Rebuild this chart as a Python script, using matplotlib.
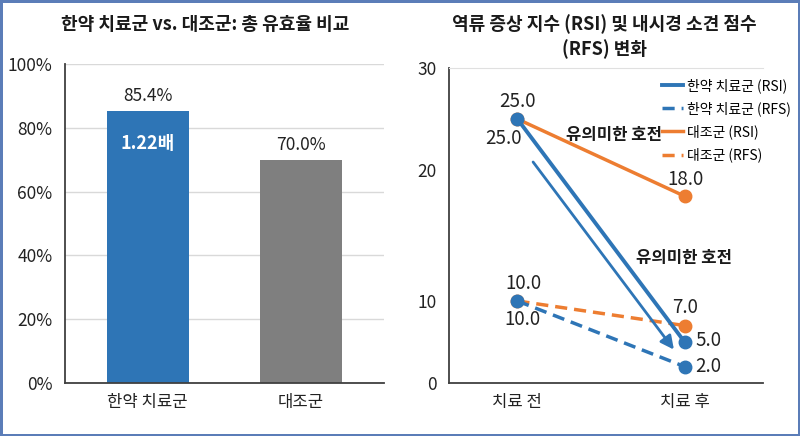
import numpy as np
import matplotlib
matplotlib.use("Agg")
import matplotlib.pyplot as plt
from matplotlib.lines import Line2D

plt.rcParams['font.family'] = ['Noto Sans CJK KR', 'DejaVu Sans']
plt.rcParams['axes.unicode_minus'] = False

# 왼쪽: 총 유효율
groups = ["한약 치료군", "대조군"]
efficacy = [85.4, 70.0]
ratio_label = "1.22배"

# 오른쪽: RSI / RFS 변화
stages = ["치료 전", "치료 후"]
herb_rsi = [25.0, 5.0]
herb_rfs = [10.0, 2.0]
ctrl_rsi = [25.0, 18.0]
ctrl_rfs = [10.0, 7.0]

BLUE = "#2E75B6"
ORANGE = "#ED7D31"
GRAY = "#7F7F7F"
SPINE = "#404040"
DASH = (0, (3.5, 2))

fig = plt.figure(figsize=(8, 4.36), dpi=100)
fig.patch.set_edgecolor("#5B7DB8")
fig.patch.set_linewidth(2.5)

# ---- left panel
ax1 = fig.add_axes([0.081, 0.1216, 0.399, 0.7316])
bars = ax1.bar(range(len(groups)), efficacy, width=0.536, color=[BLUE, GRAY], zorder=2)
ax1.set_xlim(-0.54, 1.54)
ax1.set_ylim(0, 100)
ax1.set_yticks(np.arange(0, 101, 20))
ax1.set_yticklabels([f"{v}%" for v in range(0, 101, 20)])
ax1.set_xticks(range(len(groups)))
ax1.set_xticklabels(groups)
ax1.grid(axis='y', color="#d9d9d9", linewidth=1, zorder=0)
ax1.tick_params(axis='y', length=0, pad=9, labelsize=12.5, colors="#222222")
ax1.tick_params(axis='x', length=0, pad=8, labelsize=12, colors="#222222")
for s in ["top", "right"]:
    ax1.spines[s].set_visible(False)
for s in ["left", "bottom"]:
    ax1.spines[s].set_color(SPINE)
    ax1.spines[s].set_linewidth(1.3)
for bar, v in zip(bars, efficacy):
    ax1.annotate(f"{v:.1f}%", (bar.get_x() + bar.get_width() / 2, v),
                 xytext=(0, 6), textcoords='offset pixels',
                 ha='center', va='bottom', fontsize=12.5, color="#222222")
ax1.annotate(ratio_label, (0, efficacy[0]), xytext=(0, -33), textcoords='offset pixels',
             ha='center', va='center', fontsize=13, fontweight='bold', color="white")

fig.text(205 / 800, 1 - 25 / 436, "한약 치료군 vs. 대조군: 총 유효율 비교",
         ha='center', va='center', fontsize=13, fontweight='bold', color="#1a1a1a")

# ---- right panel (piecewise y scale as in the original)
yt = [0, 10, 20, 30]
yp = [0, 82, 213, 315]


def fwd(v):
    return np.interp(v, yt, yp)


def inv(v):
    return np.interp(v, yp, yt)


ax2 = fig.add_axes([0.561, 0.1216, 0.393, 0.7225])
ax2.set_yscale('function', functions=(fwd, inv))
x = np.arange(len(stages))
ax2.plot(x, herb_rsi, color=BLUE, lw=2.8, marker='o', ms=9, zorder=4)
ax2.plot(x, herb_rfs, color=BLUE, lw=2.5, ls=DASH, marker='o', ms=9, zorder=4)
ax2.plot(x, ctrl_rsi, color=ORANGE, lw=2.5, marker='o', ms=9, zorder=3)
ax2.plot(x, ctrl_rfs, color=ORANGE, lw=2.5, ls=DASH, marker='o', ms=9, zorder=3)
ax2.set_xlim(-0.41, 1.47)
ax2.set_ylim(0, 30)
ax2.set_yticks(yt)
ax2.set_xticks(x)
ax2.set_xticklabels(stages)
ax2.tick_params(axis='y', length=0, pad=9, labelsize=12.5, colors="#222222")
ax2.tick_params(axis='x', length=0, pad=8, labelsize=12, colors="#222222")
ax2.spines["right"].set_visible(False)
ax2.spines["top"].set_color("#e0e0e0")
for s in ["left", "bottom"]:
    ax2.spines[s].set_color(SPINE)
    ax2.spines[s].set_linewidth(1.3)

lab = dict(fontsize=13.5, color="#222222", textcoords='offset pixels')
ax2.annotate(f"{ctrl_rsi[0]:.1f}", (0, ctrl_rsi[0]), xytext=(0, 17), ha='center', va='center', **lab)
ax2.annotate(f"{herb_rsi[0]:.1f}", (0, herb_rsi[0]), xytext=(-14, -20), ha='center', va='center', **lab)
ax2.annotate(f"{ctrl_rfs[0]:.1f}", (0, ctrl_rfs[0]), xytext=(6, 17), ha='center', va='center', **lab)
ax2.annotate(f"{herb_rfs[0]:.1f}", (0, herb_rfs[0]), xytext=(5, -19), ha='center', va='center', **lab)
ax2.annotate(f"{ctrl_rsi[1]:.1f}", (1, ctrl_rsi[1]), xytext=(1, 17), ha='center', va='center', **lab)
ax2.annotate(f"{ctrl_rfs[1]:.1f}", (1, ctrl_rfs[1]), xytext=(0, 18), ha='center', va='center', **lab)
ax2.annotate(f"{herb_rsi[1]:.1f}", (1, herb_rsi[1]), xytext=(11, 1), ha='left', va='center', **lab)
ax2.annotate(f"{herb_rfs[1]:.1f}", (1, herb_rfs[1]), xytext=(11, 0), ha='left', va='center', **lab)

ax2.annotate("", xy=(0.946, 3.8), xytext=(0.084, 21.0),
             arrowprops=dict(arrowstyle='-|>', color=BLUE, lw=2, mutation_scale=20))
ax2.text(0.575, 23.4, "유의미한 호전", ha='center', va='center', fontsize=12,
         fontweight='bold', color="#1a1a1a")
ax2.text(0.994, 13.3, "유의미한 호전", ha='center', va='center', fontsize=12,
         fontweight='bold', color="#1a1a1a")

handles = [Line2D([], [], color=BLUE, lw=2.8),
           Line2D([], [], color=BLUE, lw=2.5, ls=DASH),
           Line2D([], [], color=ORANGE, lw=2.5),
           Line2D([], [], color=ORANGE, lw=2.5, ls=DASH)]
names = ["한약 치료군 (RSI)", "한약 치료군 (RFS)", "대조군 (RSI)", "대조군 (RFS)"]
ax2.legend(handles, names, loc='upper left', bbox_to_anchor=(0.66, 0.985), frameon=False,
           fontsize=10, handlelength=1.5, handletextpad=0.3, labelspacing=0.6, borderaxespad=0)

fig.text(604 / 800, 1 - 36.5 / 436, "역류 증상 지수 (RSI) 및 내시경 소견 점수\n(RFS) 변화",
         ha='center', va='center', fontsize=13, fontweight='bold', color="#1a1a1a",
         linespacing=1.3)

fig.savefig("out.png", dpi=100)
